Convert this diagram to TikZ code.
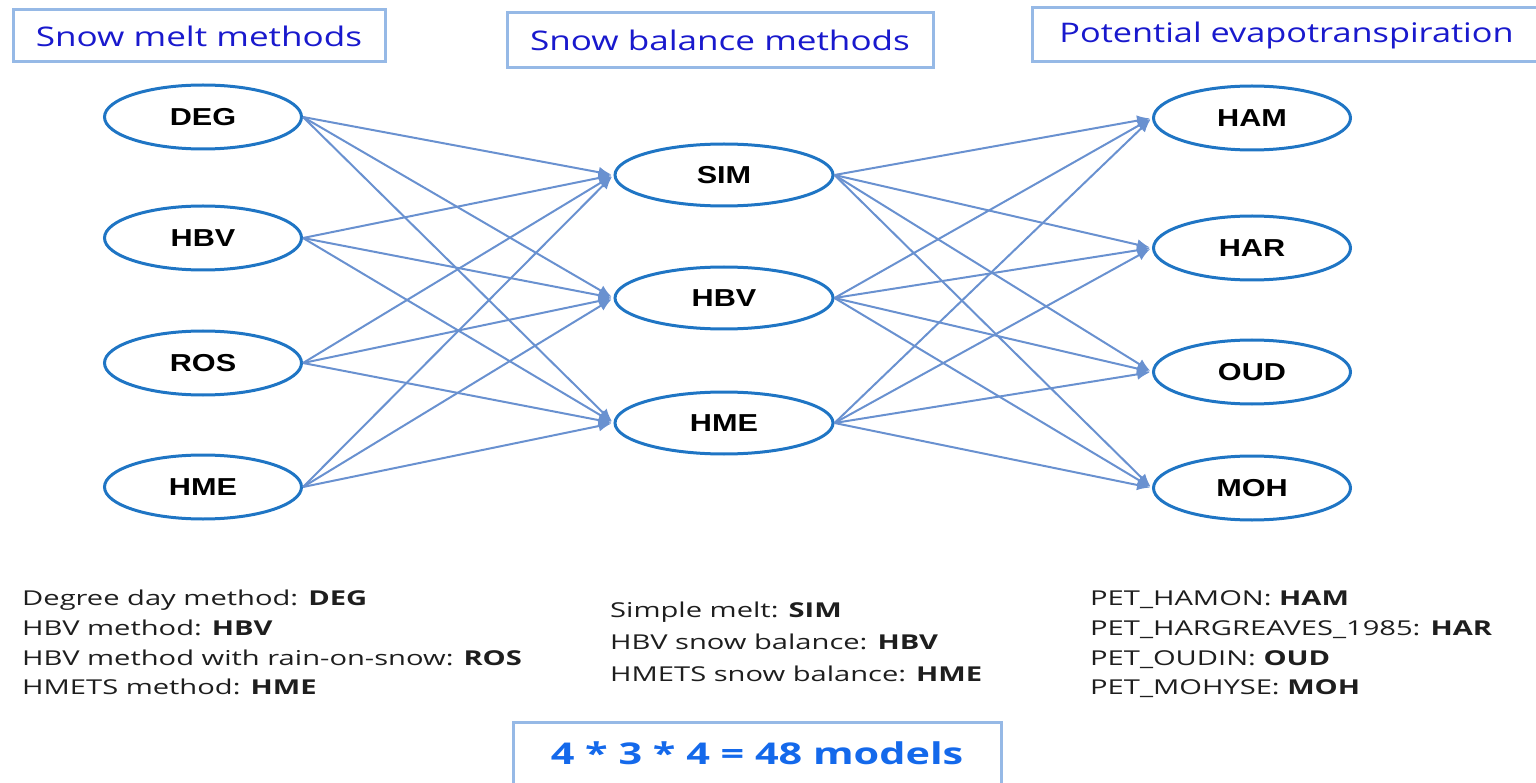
\documentclass[tikz,border=0pt]{standalone}
\usepackage{fontspec}
\setmainfont{Open Sans}
\newfontfamily\arialfont{Liberation Sans}
\usetikzlibrary{shapes.geometric,arrows.meta}
\definecolor{ellblue}{RGB}{31,117,196}
\definecolor{arrblue}{RGB}{105,145,208}
\definecolor{boxblue}{RGB}{150,185,230}
\definecolor{titleblue}{RGB}{25,25,205}
\definecolor{resblue}{RGB}{20,105,235}
\definecolor{txtgray}{RGB}{30,30,30}
\newcommand{\sx}[1]{\scalebox{1.25}[1]{#1}}
\newcommand{\sxd}[1]{\scalebox{1.42}[1]{#1}}
\tikzset{
  meth/.style={ellipse,draw=ellblue,line width=3pt,minimum width=197pt,minimum height=64pt,inner sep=0pt,font=\arialfont\fontsize{24.5}{24.5}\selectfont\bfseries,text=black},
  midmeth/.style={meth,minimum width=218pt,minimum height=62pt},
  conn/.style={draw=arrblue,line width=2pt,shorten >=2pt,-{Latex[length=13pt,width=11pt]}},
  titlebox/.style={draw=boxblue,line width=3pt,fill=white,text=titleblue,inner sep=0pt,font=\fontsize{27}{27}\selectfont},
  desc/.style={anchor=base west,inner sep=0pt,text=txtgray,font=\fontsize{20.5}{20.5}\selectfont},
}
\begin{document}
\begin{tikzpicture}[x=1pt,y=-1pt]
\useasboundingbox (0,0) rectangle (1536,783);
% titles
\node[titlebox,minimum width=372pt,minimum height=52pt] (t1) at (199,36) {\scalebox{1.3}[1]{Snow melt methods}};
\node[titlebox,minimum width=426pt,minimum height=55pt] (t2) at (720,40) {\scalebox{1.3}[1]{Snow balance methods}};
\node[titlebox,minimum width=520pt,minimum height=54pt,anchor=west] (t3) at (1031,35) {\hspace{-12pt}\scalebox{1.27}[1]{Potential evapotranspiration}};
% left
\node[meth] (deg) at (203,117) {\sx{DEG}};
\node[meth] (hbv1) at (203,238) {\sx{HBV}};
\node[meth] (ros) at (203,363) {\sx{ROS}};
\node[meth] (hme1) at (203,487) {\sx{HME}};
% middle
\node[midmeth] (sim) at (724,175) {\sx{SIM}};
\node[midmeth] (hbv2) at (724,298) {\sx{HBV}};
\node[midmeth] (hme2) at (724,423) {\sx{HME}};
% right
\node[meth] (ham) at (1252,118) {\sx{HAM}};
\node[meth] (har) at (1252,248) {\sx{HAR}};
\node[meth] (oud) at (1252,372) {\sx{OUD}};
\node[meth] (moh) at (1252,488) {\sx{MOH}};
% connectors
\foreach \a in {deg,hbv1,ros,hme1}{
  \foreach \b in {sim,hbv2,hme2}{
    \draw[conn] (\a.east) -- (\b.west);
  }
}
\foreach \a in {sim,hbv2,hme2}{
  \foreach \b in {ham,har,oud,moh}{
    \draw[conn] (\a.east) -- (\b.west);
  }
}
% descriptions
\node[desc] (l1) at (22,605) {\sxd{Degree day method: \textbf{DEG}}};
\node[desc] (l2) at (22,635) {\sxd{HBV method: \textbf{HBV}}};
\node[desc] (l3) at (22,665) {\sxd{HBV method with rain-on-snow: \textbf{ROS}}};
\node[desc] (l4) at (22,694) {\sxd{HMETS method: \textbf{HME}}};
\node[desc] (m1) at (610,617) {\sxd{Simple melt: \textbf{SIM}}};
\node[desc] (m2) at (610,649) {\sxd{HBV snow balance: \textbf{HBV}}};
\node[desc] (m3) at (610,681) {\sxd{HMETS snow balance: \textbf{HME}}};
\node[desc] (r1) at (1090,605) {\sxd{PET\_HAMON: \textbf{HAM}}};
\node[desc] (r2) at (1090,635) {\sxd{PET\_HARGREAVES\_1985: \textbf{HAR}}};
\node[desc] (r3) at (1090,665) {\sxd{PET\_OUDIN: \textbf{OUD}}};
\node[desc] (r4) at (1090,694) {\sxd{PET\_MOHYSE: \textbf{MOH}}};
% result
\node[draw=boxblue,line width=3pt,fill=white,minimum width=488pt,minimum height=70pt,text=resblue,font=\fontsize{30}{30}\selectfont\bfseries] (res) at (757,757) {\raisebox{8pt}{\scalebox{1.38}[1]{4 * 3 * 4 = 48 models}}};
\end{tikzpicture}
\end{document}
